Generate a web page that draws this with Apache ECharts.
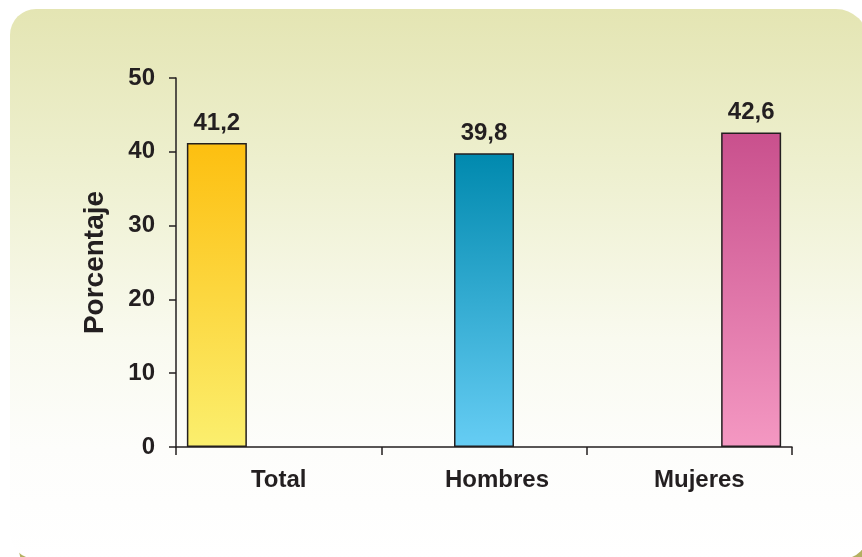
<!DOCTYPE html>
<html>
<head>
<meta charset="utf-8">
<script src="https://cdn.jsdelivr.net/npm/echarts@6/dist/echarts.min.js"></script>
<style>
  html, body { margin: 0; padding: 0; background: #ffffff; }
  #chart { width: 862px; height: 557px; }
</style>
</head>
<body>
<div id="chart"></div>
<script>
// Chart data
const categories = ['Total', 'Hombres', 'Mujeres'];
const values = [41.2, 39.8, 42.6];
const axisMin = 0;
const axisMax = 50;
const axisStep = 10;
const axisTitle = 'Porcentaje';

// Bar fills: top colour -> bottom colour
const barFills = [
  ['#fdbf10', '#fbef6e'],
  ['#0089ae', '#66cdf4'],
  ['#c9508d', '#f498c2']
];

const ink = '#231f20';
const font = '"Liberation Sans", Arial, Helvetica, sans-serif';

// one series per category so each bar sits in its own slot of the group
const series = categories.map((name, i) => ({
  name: name,
  type: 'bar',
  barWidth: 60,
  barGap: '3%',
  data: values.map((v, j) => (j === i ? v : '-')),
  itemStyle: {
    color: new echarts.graphic.LinearGradient(0, 0, 0, 1, [
      { offset: 0, color: barFills[i][0] },
      { offset: 1, color: barFills[i][1] }
    ]),
    borderColor: ink,
    borderWidth: 1.5
  },
  label: {
    show: true,
    position: 'top',
    distance: 8,
    color: ink,
    fontFamily: font,
    fontWeight: 'bold',
    fontSize: 24,
    formatter: p => String(p.value).replace('.', ',')
  }
}));

const chart = echarts.init(document.getElementById('chart'), null, { renderer: 'canvas' });

chart.setOption({
  animation: false,
  backgroundColor: '#ffffff',
  graphic: [
    {
      // olive drop shadow peeking out under the panel's lower corners
      type: 'rect',
      z: -10,
      silent: true,
      shape: { x: 19, y: 80, width: 870, height: 495, r: 26 },
      style: { fill: '#b3b060' }
    },
    {
      // rounded panel with a soft top-down tint
      type: 'rect',
      z: -9,
      silent: true,
      shape: { x: 10, y: 9, width: 858, height: 550, r: [26, 32, 26, 26] },
      style: {
        fill: new echarts.graphic.LinearGradient(0, 0, 0, 1, [
          { offset: 0, color: '#e4e5b3' },
          { offset: 0.3, color: '#eef0d0' },
          { offset: 0.6, color: '#f9faef' },
          { offset: 0.8, color: '#fdfdfb' },
          { offset: 1, color: '#ffffff' }
        ])
      }
    }
  ],
  grid: { left: 176, top: 78, width: 616, height: 369, containLabel: false },
  xAxis: {
    type: 'category',
    data: categories,
    boundaryGap: true,
    axisLine: { lineStyle: { color: ink, width: 1.5 } },
    axisTick: { show: true, length: 8, lineStyle: { color: ink, width: 1.5 } },
    axisLabel: {
      margin: 21,
      color: ink,
      fontFamily: font,
      fontWeight: 'bold',
      fontSize: 24,
      formatter: (v, i) => '{c' + i + '|' + v + '}',
      rich: {
        c0: { fontFamily: font, fontWeight: 'bold', fontSize: 24, color: ink, padding: [0, 0, 0, 0] },
        c1: { fontFamily: font, fontWeight: 'bold', fontSize: 24, color: ink, padding: [0, 0, 0, 26] },
        c2: { fontFamily: font, fontWeight: 'bold', fontSize: 24, color: ink, padding: [0, 0, 0, 20] }
      }
    },
    splitLine: { show: false }
  },
  yAxis: {
    type: 'value',
    min: axisMin,
    max: axisMax,
    interval: axisStep,
    name: axisTitle,
    nameLocation: 'middle',
    nameGap: 67,
    nameTextStyle: {
      color: ink,
      fontFamily: font,
      fontWeight: 'bold',
      fontSize: 28
    },
    axisLine: { show: true, lineStyle: { color: ink, width: 1.5 } },
    axisTick: { show: true, length: 7, lineStyle: { color: ink, width: 1.5 } },
    axisLabel: {
      margin: 21,
      color: ink,
      fontFamily: font,
      fontWeight: 'bold',
      fontSize: 24
    },
    splitLine: { show: false }
  },
  series: series
});
</script>
</body>
</html>
